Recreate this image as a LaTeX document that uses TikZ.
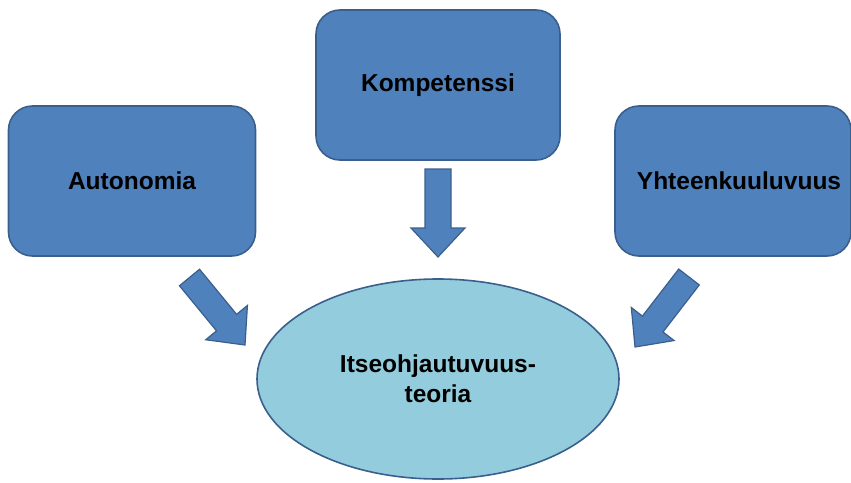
\documentclass[tikz,border=0pt]{standalone}
\usepackage{fontspec}
\setmainfont{Liberation Sans}
\usetikzlibrary{calc,shapes.geometric}
\definecolor{boxblue}{HTML}{4F81BD}
\definecolor{edgeblue}{HTML}{3A5F8C}
\definecolor{lightblue}{HTML}{93CDDD}
\tikzset{
  boxnode/.style={draw=edgeblue, line width=1.6pt, fill=boxblue, rounded corners=24pt, minimum width=#1, minimum height=150pt, inner sep=0pt, font=\fontsize{24.5}{29}\selectfont\bfseries},
  ellnode/.style={draw=edgeblue, line width=1.6pt, fill=lightblue, ellipse, inner sep=0pt, font=\fontsize{24.5}{30}\selectfont\bfseries, align=center},
  blockarrow/.style={draw=edgeblue, line width=1.2pt, fill=boxblue, line join=miter}
}
\newcommand{\blockarr}[2]{%
  \coordinate (hb) at ($(#2)!29pt!(#1)$);
  \path[blockarrow]
    ($(#1)!13pt!90:(#2)$) -- ($(hb)!13pt!-90:(#1)$) -- ($(hb)!27pt!-90:(#1)$) -- (#2)
    -- ($(hb)!27pt!90:(#1)$) -- ($(hb)!13pt!90:(#1)$) -- ($(#1)!13pt!-90:(#2)$) -- cycle;
}
\begin{document}
\begin{tikzpicture}[x=1pt,y=-1pt]
\useasboundingbox (0,0) rectangle (851,482);
\node[boxnode=247pt] (A) at (132,181) {Autonomia};
\node[boxnode=244pt] (K) at (438,85) {Kompetenssi};
\node[boxnode=236pt] (Y) at (733,181) {\hspace*{12pt}Yhteenkuuluvuus};
\node[ellnode, minimum width=362pt, minimum height=200pt] (T) at (438,379) {Itseohjautuvuus-\\teoria};
\coordinate (a1) at (189.5,277.5);
\coordinate (a2) at (245,345);
\coordinate (k1) at (438,169);
\coordinate (k2) at (438,257);
\coordinate (y1) at (689,277);
\coordinate (y2) at (635,347);
\blockarr{a1}{a2}
\blockarr{k1}{k2}
\blockarr{y1}{y2}
\end{tikzpicture}
\end{document}
